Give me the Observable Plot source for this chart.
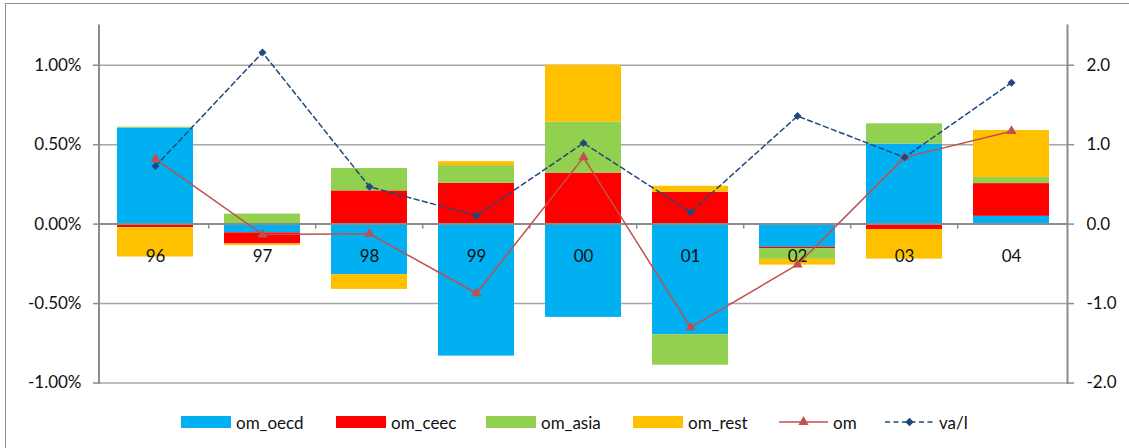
<!DOCTYPE html>
<html>
<head>
<meta charset="utf-8">
<script src="https://cdn.jsdelivr.net/npm/d3@7"></script>
<script src="https://cdn.jsdelivr.net/npm/@observablehq/plot@0.6"></script>
<style>
  html, body { margin: 0; padding: 0; background: #fff; }
  #wrap { position: relative; width: 1129px; height: 448px; overflow: hidden; font-family: Lato, sans-serif; color: #111; }
  #border { position: absolute; left: 5px; top: 3px; width: 1300px; height: 700px; border: 1.5px solid #8e8e8e; }
  #chart { position: absolute; left: 0; top: 0; }
  .item { position: absolute; top: 414px; height: 16px; display: flex; align-items: center; font-size: 17px; white-space: nowrap; }
  .item svg { margin-right: 5px; }
</style>
</head>
<body>
<div id="wrap">
  <div id="border"></div>
  <div id="chart"></div>
  <div id="legend"></div>
</div>
<script>
// Years (category labels)
const years = ["96", "97", "98", "99", "00", "01", "02", "03", "04"];

// Contributions by region, in percent
const om_oecd = [0.604, -0.055, -0.318, -0.831, -0.587, -0.696, -0.146, 0.504, 0.049];
const om_ceec = [-0.022, -0.070, 0.209, 0.257, 0.321, 0.200, -0.008, -0.034, 0.206];
const om_asia = [0.006, 0.063, 0.141, 0.111, 0.320, -0.192, -0.068, 0.127, 0.038];
const om_rest = [-0.185, -0.010, -0.093, 0.025, 0.359, 0.038, -0.036, -0.186, 0.296];

// Total (left axis, percent) and va/l (right axis)
const om = [0.41, -0.065, -0.061, -0.435, 0.42, -0.65, -0.255, 0.42, 0.585];
const va_l = [0.73, 2.16, 0.47, 0.105, 1.02, 0.15, 1.36, 0.84, 1.78];

// Series names, colours and axis ticks
const seriesNames = ["om_oecd", "om_ceec", "om_asia", "om_rest"];
const seriesColors = ["#00B0F0", "#FF0000", "#92D050", "#FFC000"];
const omColor = "#C0504D";
const valColor = "#1F497D";
const leftTicks = [-1, -0.5, 0, 0.5, 1];
const rightTicks = [-2, -1, 0, 1, 2];
const rightPerLeft = 2; // right-axis units per left-axis percent

const shares = [om_oecd, om_ceec, om_asia, om_rest];
const rows = seriesNames.flatMap((s, si) =>
  years.map((yr, i) => ({year: yr, series: s, value: shares[si][i]})));
const lineRows = years.map((yr, i) => ({year: yr, om: om[i], val: va_l[i]}));

const W = 1129, H = 400, mT = 25, mB = 17.5, mL = 98.5, mR = 62;
const yDomain = [-1, 1.25];
const pxPerUnit = (H - mT - mB) / (yDomain[1] - yDomain[0]);
const step = (W - mL - mR) / years.length;
const axisGray = "#8c8c8c";

const chart = Plot.plot({
  width: W,
  height: H,
  marginTop: mT,
  marginBottom: mB,
  marginLeft: mL,
  marginRight: mR,
  style: {fontFamily: "Lato, sans-serif", fontSize: "17px", color: "#111", background: "transparent", overflow: "visible"},
  x: {domain: years, paddingInner: 0.29, paddingOuter: 0.145, axis: null},
  y: {domain: yDomain, axis: null},
  color: {domain: seriesNames, range: seriesColors},
  marks: [
    Plot.ruleY(leftTicks.filter(d => d !== 0), {stroke: "#a6a6a6", strokeWidth: 1.5}),
    Plot.barY(rows, Plot.stackY({x: "year", y: "value", fill: "series"})),
    Plot.ruleY([0], {stroke: axisGray, strokeWidth: 2}),
    Plot.ruleX(years.slice(1), {x: d => d, y1: 0, y2: -5 / pxPerUnit, dx: -step / 2, stroke: axisGray, strokeWidth: 1.5}),
    Plot.frame({anchor: "left", stroke: axisGray, strokeWidth: 2}),
    Plot.frame({anchor: "right", stroke: axisGray, strokeWidth: 2}),
    Plot.axisY({anchor: "left", ticks: leftTicks, tickFormat: d => d.toFixed(2) + "%",
      tickSize: 5.5, tickPadding: 12, stroke: axisGray, strokeWidth: 1.5, fill: "#111"}),
    Plot.axisY({anchor: "right", ticks: rightTicks.map(d => d / rightPerLeft),
      tickFormat: d => (d * rightPerLeft).toFixed(1),
      tickSize: 6, tickPadding: 13, stroke: axisGray, strokeWidth: 1.5, fill: "#111"}),
    Plot.text(years, {x: d => d, y: 0, dy: 32, text: d => d, fill: "#111"}),
    Plot.line(lineRows, {x: "year", y: "om", stroke: omColor, strokeWidth: 1.5}),
    Plot.dot(lineRows, {x: "year", y: "om", symbol: "triangle", r: 3.8, fill: omColor, stroke: null}),
    Plot.line(lineRows, {x: "year", y: d => d.val / rightPerLeft, stroke: valColor, strokeWidth: 1.5, strokeDasharray: "5,3.5"}),
    Plot.dot(lineRows, {x: "year", y: d => d.val / rightPerLeft, symbol: "diamond2", r: 3.6, fill: valColor, stroke: null})
  ]
});
document.getElementById("chart").appendChild(chart);

// Legend below the plot
const legendItems = [
  {label: "om_oecd", kind: "box", color: seriesColors[0]},
  {label: "om_ceec", kind: "box", color: seriesColors[1]},
  {label: "om_asia", kind: "box", color: seriesColors[2]},
  {label: "om_rest", kind: "box", color: seriesColors[3]},
  {label: "om", kind: "triangle", color: omColor},
  {label: "va/l", kind: "diamond", color: valColor}
];
const legendLeft = [181, 336, 486, 633, 779, 885];
const legend = d3.select("#legend");
legendItems.forEach((it, i) => {
  const item = legend.append("div").attr("class", "item").style("left", legendLeft[i] + "px");
  const svg = item.append("svg").attr("width", it.kind === "box" ? 50 : 49).attr("height", 12);
  if (it.kind === "box") {
    svg.append("rect").attr("width", 50).attr("height", 12).attr("fill", it.color);
  } else {
    const line = svg.append("line").attr("x1", 0).attr("x2", 49).attr("y1", 6).attr("y2", 6)
      .attr("stroke", it.color).attr("stroke-width", 1.5);
    if (it.kind === "diamond") line.attr("stroke-dasharray", "5,3.5");
    const sym = it.kind === "triangle" ? d3.symbolTriangle : d3.symbolDiamond2;
    svg.append("path").attr("d", d3.symbol(sym, 45)()).attr("transform", "translate(24.5,6)").attr("fill", it.color);
  }
  item.append("span").text(it.label);
});
</script>
</body>
</html>
